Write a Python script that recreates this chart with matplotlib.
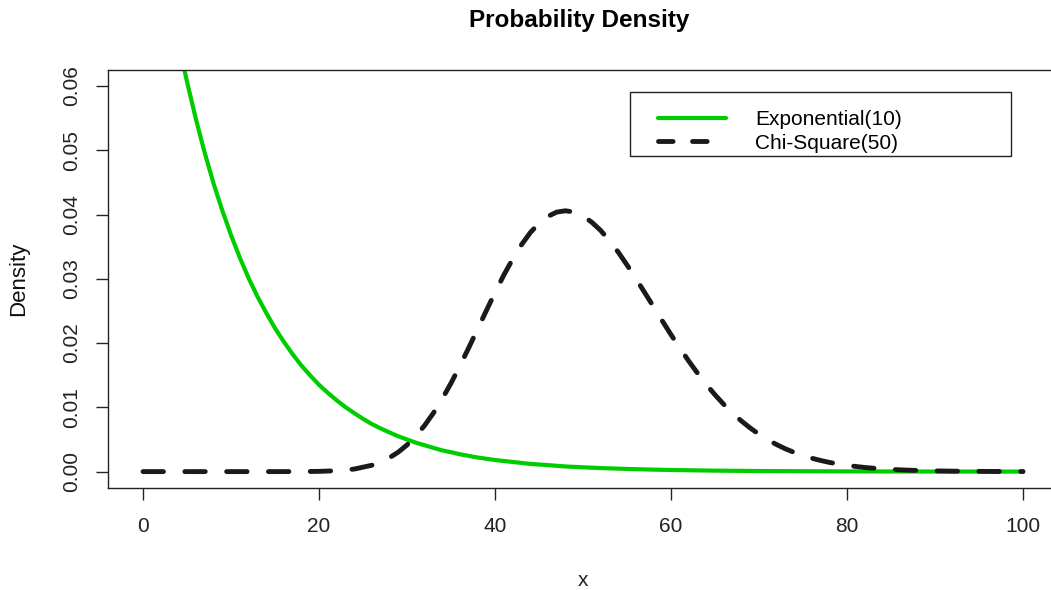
import matplotlib
matplotlib.use("Agg")
import matplotlib.pyplot as plt
from matplotlib.lines import Line2D
from matplotlib.patches import Rectangle

plt.rcParams['font.family'] = ['Liberation Sans', 'DejaVu Sans']

# Exponential(10) density (clipped above the top)
exp_x = [4, 5, 6, 7, 8, 9, 10, 11, 12, 13, 14, 15, 16, 17, 18, 19, 20, 21, 22,
         23, 24, 25, 26, 27, 28, 29, 30, 31, 32, 33, 34, 35, 36, 38, 40, 42, 44,
         46, 48, 50, 52, 56, 60, 65, 70, 80, 90, 100]
exp_y = [0.0670, 0.06065, 0.0549, 0.04966, 0.0449, 0.04066, 0.0368, 0.03329,
         0.0301, 0.02725, 0.0247, 0.02231, 0.0202, 0.01827, 0.0165, 0.01496,
         0.0135, 0.01225, 0.0111, 0.01003, 0.0091, 0.00821, 0.0074, 0.00672,
         0.0061, 0.00550, 0.0050, 0.00450, 0.0041, 0.00369, 0.0033, 0.00302,
         0.0027, 0.0022, 0.0018, 0.0015, 0.0012, 0.00101, 0.0008, 0.00067,
         0.00055, 0.00037, 0.00025, 0.00015, 0.00009, 0.00003, 0.00001, 0.000005]

# Chi-Square(50) density
chi_x = [0, 10, 14, 16, 18, 20, 22, 24, 26, 27, 28, 29, 30, 31, 32, 33, 34, 35,
         36, 37, 38, 39, 40, 41, 42, 43, 44, 45, 46, 47, 48, 49, 50, 51, 52, 53,
         54, 55, 56, 57, 58, 59, 60, 61, 62, 63, 64, 65, 66, 67, 68, 69, 70, 71,
         72, 73, 74, 75, 76, 77, 78, 79, 80, 82, 84, 86, 88, 90, 92, 96, 100]
chi_y = [0.0, 0.0, 0.0000001, 0.0000013, 0.0000079, 0.0000366, 0.000133, 0.000394,
         0.000989, 0.00148, 0.002155, 0.00303, 0.00415, 0.00553, 0.00719, 0.00912,
         0.01133, 0.01377, 0.01643, 0.01924, 0.02212, 0.02502, 0.02787, 0.03059,
         0.03307, 0.03529, 0.03718, 0.03865, 0.03971, 0.04038, 0.04059, 0.04038,
         0.03979, 0.03880, 0.03753, 0.03593, 0.03415, 0.03215, 0.03005, 0.02787,
         0.02568, 0.02347, 0.02130, 0.01922, 0.01722, 0.01533, 0.01357, 0.01194,
         0.01045, 0.00910, 0.00787, 0.00678, 0.00580, 0.00495, 0.00420, 0.00354,
         0.00298, 0.00249, 0.00208, 0.00173, 0.00143, 0.00118, 0.000965, 0.00064,
         0.000421, 0.000272, 0.000174, 0.000110, 0.0000685, 0.0000257, 0.0000093]

x_ticks = [0, 20, 40, 60, 80, 100]
y_ticks = [0.00, 0.01, 0.02, 0.03, 0.04, 0.05, 0.06]
y_tick_labels = ["0.00", "0.01", "0.02", "0.03", "0.04", "0.05", "0.06"]
series_names = ['Exponential(10)', 'Chi-Square(50)']

GREEN = '#00CD00'
DARK = '#1a1a1a'

fig = plt.figure(figsize=(10.51, 5.90), dpi=100)
ax = fig.add_axes([0.1026, 0.1729, 0.9043, 0.7085])

ax.plot(exp_x, exp_y, color=GREEN, lw=3.0, solid_capstyle='round',
        solid_joinstyle='round')
ax.plot(chi_x, chi_y, color=DARK, lw=3.5, dashes=(4.2, 4.4),
        dash_capstyle='round', dash_joinstyle='round')

ax.set_xlim(-4, 104)
ax.set_ylim(-0.00255, 0.0625)
ax.set_xticks(x_ticks)
ax.set_xticklabels([str(v) for v in x_ticks])
ax.set_yticks(y_ticks)
ax.set_yticklabels(y_tick_labels, rotation=90, va='center')

for s in ax.spines.values():
    s.set_linewidth(1.0)
    s.set_color('#222222')
ax.tick_params(axis='both', direction='out', length=8.5, width=1.0,
               colors='#222222', labelsize=15, labelcolor='#222222')
ax.tick_params(axis='x', pad=12.5)
ax.tick_params(axis='y', pad=11)

ax.set_xlabel('x', fontsize=15, color='#222222')
ax.xaxis.label.set_va('center')
ax.xaxis.set_label_coords(0.5, -0.2225)
ax.set_ylabel('Density', fontsize=16, color='#111111')
ax.yaxis.label.set_va('center')
ax.yaxis.set_label_coords(-0.0934, 0.5)

fig.text(0.551, 0.966, 'Probability Density', ha='center', va='center',
         fontsize=17.5, fontweight='bold')

# legend frame (R-style box with wide right margin)
box = Rectangle((0.5495, 0.7943), 0.4009, 0.1531, transform=ax.transAxes,
                facecolor='white', edgecolor='#222222', linewidth=1.0,
                clip_on=False, zorder=4)
ax.add_patch(box)

handles = [Line2D([], [], color=GREEN, lw=3.0, solid_capstyle='round'),
           Line2D([], [], color=DARK, lw=3.5, dashes=(3.0, 4.0),
                  dash_capstyle='round')]
leg = ax.legend(handles, series_names, loc='upper left',
                bbox_to_anchor=(0.5789, 0.904), frameon=False, fontsize=15,
                handlelength=3.27, borderpad=0, labelspacing=0.22,
                handletextpad=1.39, borderaxespad=0)
leg.set_zorder(5)

fig.savefig('out.png', dpi=100)
